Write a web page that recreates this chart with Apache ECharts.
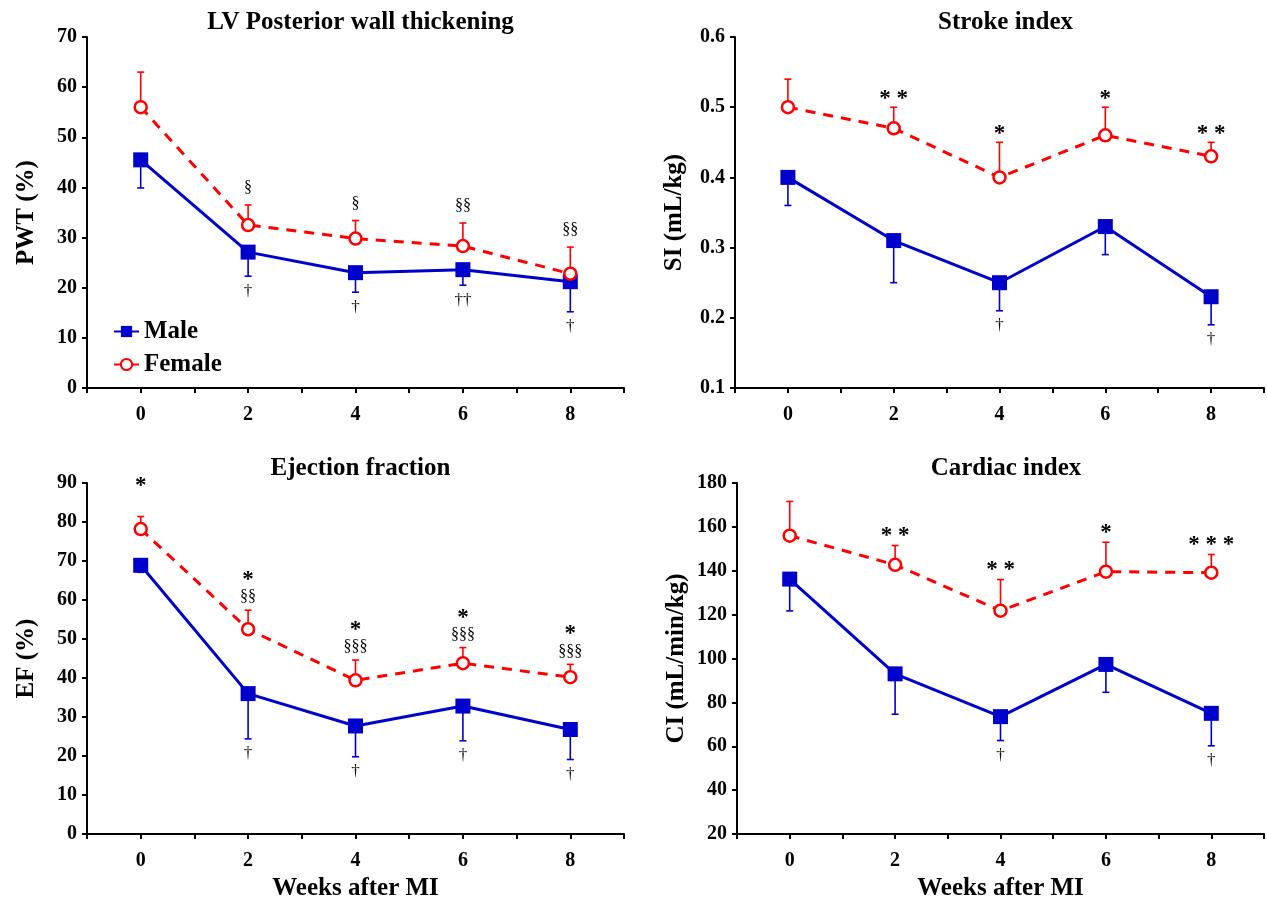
<!DOCTYPE html>
<html><head><meta charset="utf-8">
<script src="https://cdn.jsdelivr.net/npm/echarts@6/dist/echarts.min.js"></script>
<style>html,body{margin:0;padding:0;background:#fff}#c{width:1267px;height:905px}</style>
</head><body><div id="c"></div>
<script>
// ---------- data ----------
const weeks = [0, 2, 4, 6, 8];
const xTickLabels = ['0', '2', '4', '6', '8'];

const pwtMale = [45.5, 27.1, 23.0, 23.6, 21.2];
const pwtMaleSD = [5.6, 4.8, 3.9, 3.1, 6.0];
const pwtFemale = [56.0, 32.5, 29.8, 28.3, 22.8];
const pwtFemaleSD = [7.0, 4.0, 3.6, 4.6, 5.3];

const siMale = [0.40, 0.31, 0.25, 0.33, 0.23];
const siMaleSD = [0.04, 0.06, 0.04, 0.04, 0.04];
const siFemale = [0.50, 0.47, 0.40, 0.46, 0.43];
const siFemaleSD = [0.04, 0.03, 0.05, 0.04, 0.02];

const efMale = [68.9, 36.0, 27.7, 32.8, 26.8];
const efMaleSD = [1.8, 11.6, 7.9, 8.9, 7.7];
const efFemale = [78.2, 52.5, 39.4, 43.8, 40.2];
const efFemaleSD = [3.2, 4.9, 5.2, 4.0, 3.3];

const ciMale = [136.2, 93.0, 73.5, 97.3, 75.0];
const ciMaleSD = [14.5, 18.4, 10.9, 12.7, 14.8];
const ciFemale = [156.0, 142.7, 121.8, 139.6, 139.1];
const ciFemaleSD = [15.6, 8.8, 14.2, 13.4, 8.3];

// significance marks
const pwtTopMarks = ['', '§', '§', '§§', '§§'];
const pwtBottomMarks = ['', '†', '†', '††', '†'];
const siStarMarks = ['', '* *', '*', '*', '* *'];
const siBottomMarks = ['', '', '†', '', '†'];
const efStarMarks = ['*', '*', '*', '*', '*'];
const efSectMarks = ['', '§§', '§§§', '§§§', '§§§'];
const efBottomMarks = ['', '†', '†', '†', '†'];
const ciStarMarks = ['', '* *', '* *', '*', '* * *'];
const ciBottomMarks = ['', '', '†', '', '†'];

const titles = ['LV Posterior wall thickening', 'Stroke index', 'Ejection fraction', 'Cardiac index'];
const yNames = ['PWT (%)', 'SI (mL/kg)', 'EF (%)', 'CI (mL/min/kg)'];
const xName = 'Weeks after MI';

// ---------- style ----------
const FONT = '"Liberation Serif", "Times New Roman", serif';
const BLUE = '#0000cc';
const RED = '#ff0000';

const grids = [
  {left: 87, top: 37, width: 537, height: 351},
  {left: 735, top: 37, width: 531, height: 351},
  {left: 87, top: 483, width: 537, height: 351},
  {left: 737, top: 483, width: 528, height: 351}
];
const yRanges = [
  {min: 0, max: 70, interval: 10, dec: 0},
  {min: 0.1, max: 0.6, interval: 0.1, dec: 1},
  {min: 0, max: 90, interval: 10, dec: 0},
  {min: 20, max: 180, interval: 20, dec: 0}
];

const panels = [
  {male: pwtMale, maleSD: pwtMaleSD, female: pwtFemale, femaleSD: pwtFemaleSD,
   top: [{marks: pwtTopMarks, off: 17, font: '16px ' + FONT}],
   bottom: pwtBottomMarks},
  {male: siMale, maleSD: siMaleSD, female: siFemale, femaleSD: siFemaleSD,
   top: [{marks: siStarMarks, off: 8, font: 'bold 23px ' + FONT}],
   bottom: siBottomMarks},
  {male: efMale, maleSD: efMaleSD, female: efFemale, femaleSD: efFemaleSD,
   top: [{marks: efSectMarks, off: 13, font: '16px ' + FONT},
         {marks: efStarMarks, off: 30, font: 'bold 23px ' + FONT}],
   bottom: efBottomMarks},
  {male: ciMale, maleSD: ciMaleSD, female: ciFemale, femaleSD: ciFemaleSD,
   top: [{marks: ciStarMarks, off: 9, font: 'bold 23px ' + FONT}],
   bottom: ciBottomMarks}
];

function errSeries(gi, means, sds, dir, color) {
  return {
    type: 'custom', xAxisIndex: gi, yAxisIndex: gi, z: 1, silent: true, animation: false,
    data: weeks.map((w, i) => [w, means[i], means[i] + dir * sds[i]]),
    encode: {x: 0, y: 1},
    renderItem: (params, api) => {
      const p0 = api.coord([api.value(0), api.value(1)]);
      const p1 = api.coord([api.value(0), api.value(2)]);
      const cap = 3.5;
      return {type: 'group', children: [
        {type: 'line', shape: {x1: p0[0], y1: p0[1], x2: p1[0], y2: p1[1]}, style: {stroke: color, lineWidth: 1.6}},
        {type: 'line', shape: {x1: p1[0] - cap, y1: p1[1], x2: p1[0] + cap, y2: p1[1]}, style: {stroke: color, lineWidth: 1.6}}
      ]};
    }
  };
}

function annSeries(gi, ends, marks, dir, off, font, color) {
  return {
    type: 'custom', xAxisIndex: gi, yAxisIndex: gi, z: 6, silent: true, animation: false,
    data: weeks.map((w, i) => [w, ends[i], i]),
    encode: {x: 0, y: 1},
    renderItem: (params, api) => {
      const txt = marks[api.value(2)];
      if (!txt) return null;
      const p = api.coord([api.value(0), api.value(1)]);
      return {type: 'text', x: p[0], y: p[1] + dir * off,
        style: {text: txt, font: font, fill: color, align: 'center', verticalAlign: 'middle'}};
    }
  };
}

const option = {
  animation: false,
  backgroundColor: '#fff',
  title: titles.map((t, i) => ({
    text: t, left: grids[i].left + grids[i].width / 2, top: grids[i].top - 32, textAlign: 'center',
    textStyle: {fontFamily: FONT, fontWeight: 'bold', fontSize: 25, color: '#000'}
  })),
  legend: {
    data: ['Male', 'Female'], orient: 'vertical', left: 108, top: 314,
    itemWidth: 25, itemHeight: 14, itemGap: 8,
    textStyle: {fontFamily: FONT, fontWeight: 'bold', fontSize: 25, color: '#000'}
  },
  grid: grids,
  xAxis: grids.map((g, i) => ({
    type: 'value', gridIndex: i, min: -1, max: 9, interval: 1,
    axisLine: {show: true, onZero: false, lineStyle: {color: '#000', width: 2}},
    axisTick: {show: true, length: 5, lineStyle: {color: '#000', width: 2}},
    splitLine: {show: false},
    axisLabel: {
      formatter: v => { const k = weeks.indexOf(v); return k >= 0 ? xTickLabels[k] : ''; },
      fontFamily: FONT, fontWeight: 'bold', fontSize: 20, color: '#000', margin: 17
    },
    name: i >= 2 ? xName : '', nameLocation: 'middle', nameGap: 42,
    nameTextStyle: {fontFamily: FONT, fontWeight: 'bold', fontSize: 25, color: '#000'}
  })),
  yAxis: grids.map((g, i) => ({
    type: 'value', gridIndex: i, min: yRanges[i].min, max: yRanges[i].max, interval: yRanges[i].interval,
    axisLine: {show: true, onZero: false, lineStyle: {color: '#000', width: 2}},
    axisTick: {show: true, length: 5, lineStyle: {color: '#000', width: 2}},
    splitLine: {show: false},
    axisLabel: {
      formatter: v => v.toFixed(yRanges[i].dec),
      fontFamily: FONT, fontWeight: 'bold', fontSize: 20, color: '#000', margin: 10
    },
    name: yNames[i], nameLocation: 'middle', nameGap: 48,
    nameTextStyle: {fontFamily: FONT, fontWeight: 'bold', fontSize: 25, color: '#000'}
  })),
  series: []
};

panels.forEach((p, gi) => {
  option.series.push(errSeries(gi, p.male, p.maleSD, -1, BLUE));
  option.series.push(errSeries(gi, p.female, p.femaleSD, 1, RED));
  option.series.push({
    type: 'line', name: 'Male', xAxisIndex: gi, yAxisIndex: gi, z: 3,
    data: weeks.map((w, i) => [w, p.male[i]]),
    symbol: 'rect', symbolSize: 15, itemStyle: {color: BLUE},
    lineStyle: {color: BLUE, width: 3}
  });
  option.series.push({
    type: 'line', name: 'Female', xAxisIndex: gi, yAxisIndex: gi, z: 4,
    data: weeks.map((w, i) => [w, p.female[i]]),
    symbol: 'circle', symbolSize: 12, showSymbol: true,
    itemStyle: {color: '#fff', borderColor: RED, borderWidth: 2.5},
    lineStyle: {color: RED, width: 3, type: [10, 8]}
  });
  const femTops = p.female.map((v, i) => v + p.femaleSD[i]);
  const maleLows = p.male.map((v, i) => v - p.maleSD[i]);
  p.top.forEach(t => option.series.push(annSeries(gi, femTops, t.marks, -1, t.off, t.font, '#000')));
  option.series.push(annSeries(gi, maleLows, p.bottom, 1, 15, '17px ' + FONT, '#111'));
});

const chart = echarts.init(document.getElementById('c'), null, {renderer: 'canvas'});
chart.setOption(option);
</script>
</body></html>
